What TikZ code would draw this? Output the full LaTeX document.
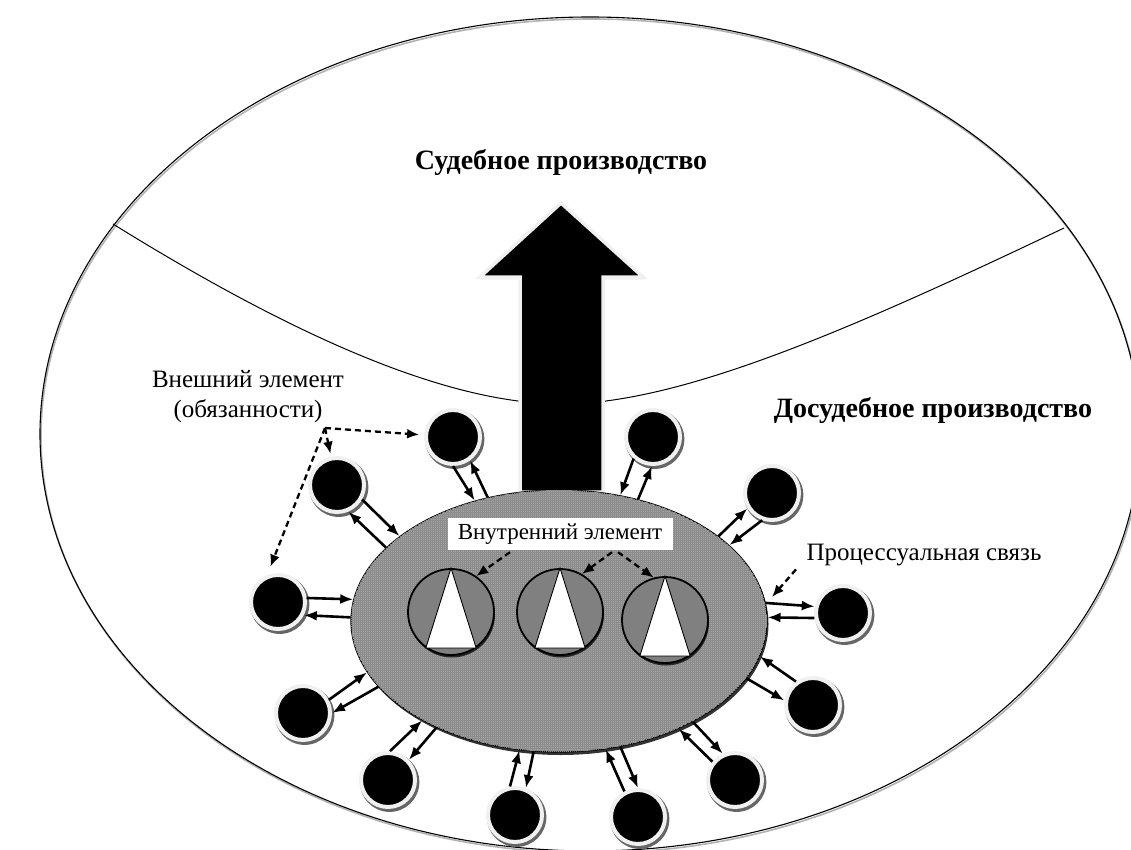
\documentclass[tikz,border=0pt]{standalone}
\usepackage{fontspec}
\setmainfont{Liberation Serif}
\usetikzlibrary{
    arrows.meta,
    patterns.meta,
    shadows,
    shapes.geometric % ellipse for the core node
}

\tikzset{
    duty/.style={circle, fill=black, draw=gray!12, line width=4pt,
        minimum size=54pt, inner sep=0pt,
        drop shadow={shadow xshift=1.5pt, shadow yshift=-2pt,
            shadow scale=1.1, fill=black!60, opacity=1}},
    core/.style={ellipse, draw, line width=1.2pt, fill=gray!70,
        minimum width=416pt, minimum height=262pt, inner sep=0pt,
        drop shadow={shadow xshift=1.5pt, shadow yshift=-3pt,
            fill=black!80, opacity=1},
        postaction={pattern={Hatch[angle=0, distance=2pt, line width=.5pt]},
            pattern color=black!45}},
    part/.style={circle, draw, line width=1.8pt, fill=gray,
        minimum size=86pt, inner sep=0pt,
        drop shadow={shadow xshift=1pt, shadow yshift=-2.5pt,
            fill=black!85, opacity=1}},
    link/.style={line width=2.6pt, -{Latex[length=13pt, width=10pt]}},
    pointer/.style={line width=2.3pt, dash pattern=on 6pt off 4pt,
        -{Latex[length=12pt, width=10pt]}},
    caption/.style={font=\fontsize{25}{30}\selectfont, align=center},
    heading/.style={font=\fontsize{28}{32}\selectfont\bfseries}
}

\begin{document}
\begin{tikzpicture}[x=1pt, y=-1pt]
    \useasboundingbox (0,0) rectangle (1131,850);
    \clip (0,0) rectangle (1131,850);

    % the whole procedure and the border between its two stages
    \draw[gray!60, line width=1.6pt] (591,436) ellipse [x radius=550, y radius=417];
    \draw[line width=1.1pt] (590,434) ellipse [x radius=550, y radius=417];
    \draw[line width=1pt] (113,224) .. controls (300,340) and (450,404) .. (562,404)
        .. controls (680,404) and (850,330) .. (1064,228);

    % the way up to the court
    \filldraw[fill=black, draw=gray!12, line width=3.5pt,
        drop shadow={shadow xshift=1.5pt, shadow yshift=-2pt, fill=gray!70, opacity=1}]
        (561,203) -- (643,277) -- (603,277) -- (603,492)
        -- (520,492) -- (520,277) -- (480,277) -- cycle;

    \node[heading] (court) at (561,163) {Судебное производство};
    \node[heading] (pretrial) at (933,410) {Досудебное производство};

    % core with its inner elements
    \node[core] (core) at (559,621) {};
    \node[part] (p1) at (451,612) {};
    \node[part] (p2) at (560,612) {};
    \node[part] (p3) at (665,620) {};
    \foreach \p in {p1,p2,p3}
        \filldraw[fill=white, line width=.9pt] (\p.90) -- (\p.235) -- (\p.305) -- cycle;

    \node[caption, fill=white, minimum width=225pt, minimum height=32pt, inner sep=0pt,
        font=\fontsize{23}{26}\selectfont] (innerlbl) at (560,534) {Внутренний элемент};
    \draw[pointer] ([xshift=-50pt, yshift=-2pt]innerlbl.south) -- (p1.55);
    \draw[pointer] ([xshift=52pt, yshift=-2pt]innerlbl.south) -- (p2.60);
    \draw[pointer] ([xshift=58pt, yshift=-2pt]innerlbl.south) -- (p3.105);

    % outer elements
    \foreach \n/\x/\y in {1/453/437, 2/337/485, 3/278/602, 4/303/713,
                          5/388/780, 6/515/815, 7/638/817, 8/735/780,
                          9/813/705, 10/843/613, 11/772/493, 12/653/437}
        \path (\x,\y) coordinate (c\n);

    % links: circle -> core, then core -> circle
    \foreach \n/\a/\b/\c/\d in {1/-90/125/120/-54, 2/-30/152/157/-67,
                                3/8/174/179/-27, 4/27/-165/-160/0,
                                5/86/-144/-139/44, 6/100/-107/-101/68,
                                7/118/-70/-64/90, 8/141/-42/-37/115,
                                9/126/-10/-17/171, 10/-170/1/5/167,
                                11/-110/24/28/-148, 12/-132/64/57/-92}
    {
        \node[duty] (e\n) at (c\n) {};
        \draw[link] (e\n.\a) -- (core.\b);
        \draw[link] (core.\c) -- (e\n.\d);
    }

    \node[caption] (dutylbl) at (248,397) {Внешний элемент\\(обязанности)};
    \coordinate (hub) at (325,428);
    \draw[pointer, shorten >=5pt] (hub) -- (e1);
    \draw[pointer, shorten >=3pt] (hub) -- (e2);
    \draw[pointer, shorten >=9pt] (hub) -- (e3.112);

    \node[caption] (linklbl) at (924,555) {Процессуальная связь};
    \coordinate (tie) at (772,597);
    \draw[pointer] ([xshift=-7pt]linklbl.south west) -- (tie);
\end{tikzpicture}
\end{document}
